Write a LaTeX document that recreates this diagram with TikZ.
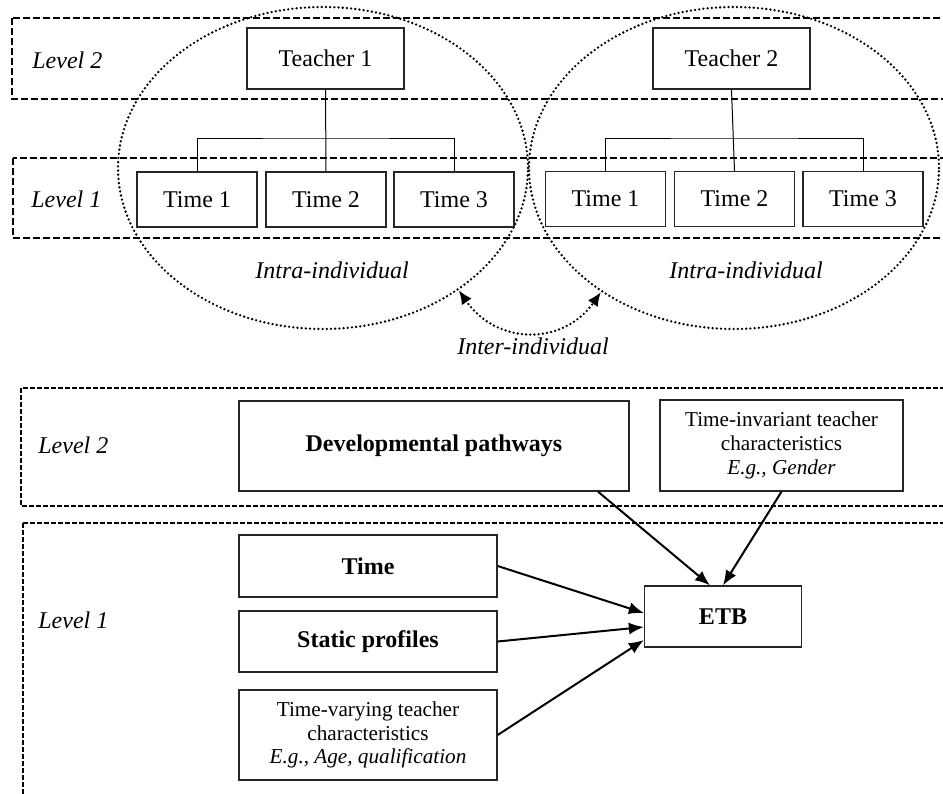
\documentclass[tikz,border=0pt]{standalone}
\usepackage{fontspec}
\setmainfont{Liberation Serif}
\usetikzlibrary{arrows.meta,shapes.geometric}

\tikzset{
  tbox/.style={draw=black!85, line width=0.65pt, inner sep=0pt, align=center,
    font=\fontsize{12}{14}\selectfont},
  smallbox/.style={tbox, font=\fontsize{10.6}{11.9}\selectfont},
  levelband/.style={line width=1.2pt, dash pattern=on 3.5pt off 1.5pt},
  lowband/.style={line width=1pt, dash pattern=on 2.5pt off 1pt},
  person/.style={ellipse, draw, line width=1.3pt, line cap=round,
    dash pattern=on 0pt off 2.1pt, inner sep=0pt, minimum width=205pt, minimum height=161pt},
  levellabel/.style={font=\fontsize{12}{14}\selectfont\itshape, anchor=west, inner sep=0pt},
  effect/.style={-{Latex[length=7.5pt,width=6pt]}, line width=1pt},
  tree/.style={line width=0.5pt}
}

\begin{document}
\begin{tikzpicture}[x=0.5pt, y=-0.5pt]

\useasboundingbox (0,0) rectangle (943,793);
\clip (0,0) rectangle (943,793);


% Upper part: the two levels
\draw[levelband] (12,18) rectangle (960,99);
\draw[levelband] (13,158) rectangle (960,238);

\node[levellabel] (upLevTwo) at (32,60) {Level 2};
\node[levellabel] (upLevOne) at (31,199) {Level 1};


% Teacher 1 and its three times
\node[person] (indivA) at (323,168) {};
\node[tbox, minimum width=78.5pt, minimum height=30.5pt] (teacherA) at (325.5,58.5) {Teacher 1};
\node[tbox, minimum width=60pt, minimum height=27.5pt] (timeAa) at (197,199.5) {Time 1};
\node[tbox, minimum width=60pt, minimum height=27.5pt] (timeAb) at (326,199.5) {Time 2};
\node[tbox, minimum width=60pt, minimum height=27.5pt] (timeAc) at (454,199.5) {Time 3};

\coordinate (forkA) at (326,138);
\draw[tree] (teacherA.south) -- (timeAb.north);
\draw[tree] (timeAa.north) |- (forkA) -| (timeAc.north);

\node[font=\fontsize{12}{14}\selectfont\itshape] (intraA) at (332,270) {Intra-individual};


% Teacher 2 and its three times
\node[person] (indivB) at (734,168) {};
\node[tbox, minimum width=78.5pt, minimum height=30.5pt] (teacherB) at (731.5,58.5) {Teacher 2};
\node[tbox, minimum width=60pt, minimum height=27.5pt] (timeBa) at (605.5,199) {Time 1};
\node[tbox, minimum width=60pt, minimum height=27.5pt] (timeBb) at (734.5,199) {Time 2};
\node[tbox, minimum width=60pt, minimum height=27.5pt] (timeBc) at (863,199) {Time 3};

\coordinate (forkB) at (734.5,138);
\draw[tree] (teacherB.south) -- (timeBb.north);
\draw[tree] (timeBa.north) |- (forkB) -| (timeBc.north);

\node[font=\fontsize{12}{14}\selectfont\itshape] (intraB) at (746,270) {Intra-individual};


% Between the two teachers
\draw[{Latex[length=7pt,width=6pt]}-{Latex[length=7pt,width=6pt]}, line width=1.3pt, line cap=round,
  dash pattern=on 0pt off 2.1pt]
  (indivA.-42) .. controls +(38,55) and +(-38,54) .. (indivB.-137);
\node[font=\fontsize{12}{14}\selectfont\itshape] (inter) at (533,346) {Inter-individual};


% Lower part: the model
\draw[lowband] (21,388) rectangle (960,506);
\draw[lowband] (23,523) rectangle (960,810);

\node[levellabel] (lowLevTwo) at (38,445) {Level 2};
\node[levellabel] (lowLevOne) at (38,620) {Level 1};

% Level 2 predictors
\node[tbox, minimum width=195pt, minimum height=45pt, font=\fontsize{12}{14}\selectfont\bfseries]
  (paths) at (434,446) {Developmental pathways};
\node[smallbox, minimum width=121.5pt, minimum height=45.5pt] (invariant) at (781.5,445.5)
  {Time-invariant teacher\\characteristics\\\textit{E.g., Gender}};

% Level 1 predictors
\node[tbox, minimum width=129pt, minimum height=31pt, font=\fontsize{12}{14}\selectfont\bfseries]
  (time) at (368,566) {Time};
\node[tbox, minimum width=129pt, minimum height=30.5pt, font=\fontsize{12}{14}\selectfont\bfseries]
  (static) at (368,641.5) {Static profiles};
\node[smallbox, minimum width=129pt, minimum height=45pt] (varying) at (368,735)
  {Time-varying teacher\\characteristics\\\textit{E.g., Age, qualification}};

% Outcome
\node[tbox, minimum width=78.5pt, minimum height=30.5pt, font=\fontsize{12}{14}\selectfont\bfseries]
  (etb) at (723,616.5) {ETB};

\draw[effect] ([xshift=82pt]paths.south) -- ([xshift=-6.5pt]etb.north);
\draw[effect] (invariant.south) -- (etb.north);
\draw[effect] (time.east) -- ([yshift=1.75pt]etb.west);
\draw[effect] (static.east) -- ([yshift=-5.25pt]etb.west);
\draw[effect] (varying.east) -- ([yshift=-11.75pt]etb.west);


\end{tikzpicture}
\end{document}
